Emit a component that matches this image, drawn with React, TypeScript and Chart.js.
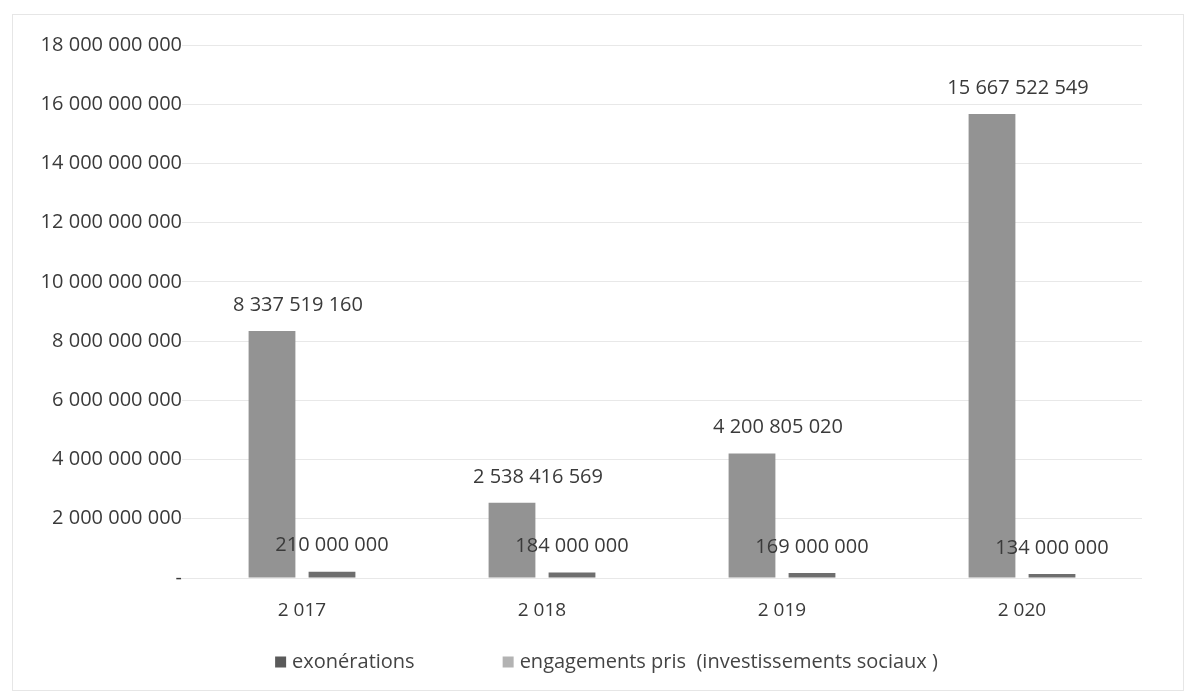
import React, { useEffect, useRef } from "react";
import { Chart, registerables } from "chart.js";

Chart.register(...registerables);

const categories = ["2 017", "2 018", "2 019", "2 020"];
const exonerations = [8337519160, 2538416569, 4200805020, 15667522549];
const engagements = [210000000, 184000000, 169000000, 134000000];
const seriesNames = ["exonérations", "engagements pris  (investissements sociaux )"];
const legendColors = ["#5a5a5a", "#b3b3b3"];
const yMax = 18000000000;
const yStep = 2000000000;

const FONT = "'Open Sans', 'Noto Sans', sans-serif";

const fmt = (v: number) =>
  v === 0 ? "-" : Math.round(v).toString().replace(/\B(?=(\d{3})+(?!\d))/g, " ");

const labelPlugin = {
  id: "barLabels",
  afterDatasetsDraw(chart: any) {
    const ctx = chart.ctx;
    ctx.save();
    ctx.font = `20px ${FONT}`;
    ctx.fillStyle = "#3a3a3a";
    ctx.textAlign = "center";
    ctx.textBaseline = "middle";
    chart.data.datasets.forEach((ds: any, di: number) => {
      const meta = chart.getDatasetMeta(di);
      meta.data.forEach((bar: any, i: number) => {
        const dx = di === 0 ? 26 : 0;
        ctx.fillText(fmt(ds.data[i]), bar.x + dx, bar.y - 26);
      });
    });
    ctx.restore();
  },
};

const legendPlugin = {
  id: "customLegend",
  afterDraw(chart: any) {
    const ctx = chart.ctx;
    ctx.save();
    ctx.font = `20px ${FONT}`;
    ctx.textBaseline = "middle";
    ctx.textAlign = "left";
    const box = 11;
    const gapBoxText = 6;
    const gapItems = 88;
    const widths = chart.data.datasets.map(
      (ds: any) => box + gapBoxText + ctx.measureText(ds.label).width
    );
    const total = widths.reduce((a: number, b: number) => a + b, 0) + gapItems * (widths.length - 1);
    let x = chart.width / 2 + 12 - total / 2;
    const y = 662;
    chart.data.datasets.forEach((ds: any, i: number) => {
      ctx.fillStyle = legendColors[i];
      ctx.fillRect(x, y - box / 2, box, box);
      ctx.fillStyle = "#444";
      ctx.fillText(ds.label, x + box + gapBoxText, y);
      x += widths[i] + gapItems;
    });
    ctx.restore();
  },
};

const framePlugin = {
  id: "frame",
  beforeDraw(chart: any) {
    const ctx = chart.ctx;
    ctx.save();
    ctx.fillStyle = "#ffffff";
    ctx.fillRect(0, 0, chart.width, chart.height);
    ctx.strokeStyle = "#e6e6e6";
    ctx.lineWidth = 1;
    ctx.strokeRect(12.5, 14.5, chart.width - 18, chart.height - 20);
    ctx.restore();
  },
};

export default function App() {
  const ref = useRef<HTMLCanvasElement | null>(null);
  useEffect(() => {
    document.body.style.margin = "0";
    const canvas = ref.current!;
    const chart = new Chart(canvas, {
      type: "bar",
      data: {
        labels: categories,
        datasets: [
          {
            label: seriesNames[0],
            data: exonerations,
            backgroundColor: "#939393",
            categoryPercentage: 0.5,
            barPercentage: 0.78,
          },
          {
            label: seriesNames[1],
            data: engagements,
            backgroundColor: "#6e6e6e",
            categoryPercentage: 0.5,
            barPercentage: 0.78,
          },
        ],
      },
      options: {
        animation: false,
        responsive: false,
        maintainAspectRatio: false,
        layout: { padding: { top: 45, left: 0, right: 47, bottom: 68 } },
        plugins: {
          tooltip: { enabled: false },
          legend: { display: false },
        },
        scales: {
          x: {
            grid: { display: false },
            border: { display: false },
            ticks: {
              font: { family: FONT, size: 19 },
              color: "#3a3a3a",
              padding: 13,
            },
            afterFit: (s: any) => {
              s.height = 50;
            },
          },
          y: {
            min: 0,
            max: yMax,
            ticks: {
              stepSize: yStep,
              font: { family: FONT, size: 20 },
              color: "#3a3a3a",
              padding: 0,
              callback: (v: any) => fmt(Number(v)),
            },
            grid: { color: "#e8e8e8", drawTicks: false },
            border: { display: false },
            afterFit: (s: any) => {
              s.width = 182;
            },
          },
        },
      },
      plugins: [framePlugin, labelPlugin, legendPlugin],
    } as any);
    return () => chart.destroy();
  }, []);
  return <canvas ref={ref} width={1189} height={696} style={{ display: "block" }} />;
}
